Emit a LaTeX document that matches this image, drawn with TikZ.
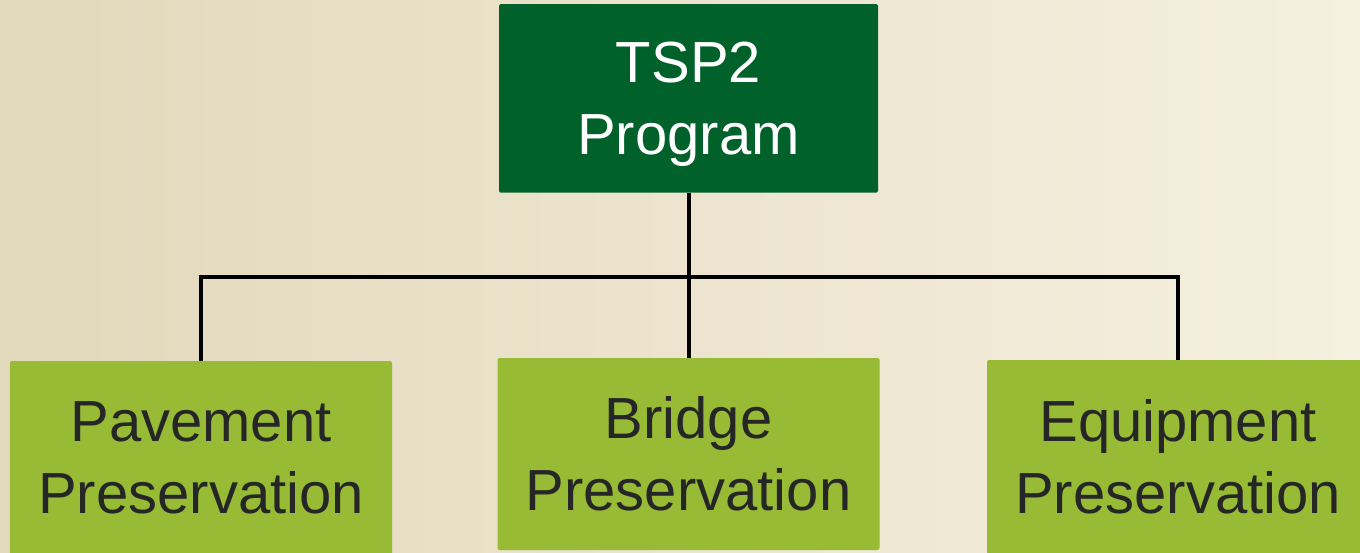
\documentclass[tikz,border=0pt]{standalone}
\usepackage{fontspec}
\setmainfont{Liberation Sans}
\definecolor{bgL}{HTML}{E2D8BB}
\definecolor{bgR}{HTML}{F6F0E0}
\definecolor{darkgrn}{HTML}{00622A}
\definecolor{lightgrn}{HTML}{97BB34}
\definecolor{txtdark}{HTML}{262626}
\tikzset{
  topbox/.style={draw=none, fill=darkgrn, text=white, rounded corners=1.5pt,
    minimum width=379pt, minimum height=188.5pt, inner sep=0pt, align=center,
    text depth=0pt, font=\fontsize{58}{71.5}\selectfont},
  leafbox/.style={draw=none, fill=lightgrn, text=txtdark, rounded corners=2pt,
    minimum width=382pt, minimum height=194pt, inner sep=0pt, align=center,
    font=\fontsize{58}{71.5}\selectfont},
  conn/.style={draw=black, line width=4pt, line join=miter}
}
\begin{document}
\begin{tikzpicture}[x=1pt,y=-1pt]
\useasboundingbox (0,0) rectangle (1360,552);
\clip (0,0) rectangle (1360,552);
\shade[left color=bgL, right color=bgR] (0,0) rectangle (1360,552);
\node[topbox] (top) at (688.5,98.3) {TSP2\\Program};
\node[leafbox] (pav) at (201,458) {Pavement\\Preservation};
\node[leafbox, minimum height=192pt] (bri) at (688.5,454) {Bridge\\Preservation};
\node[leafbox] (equ) at (1178,457) {Equipment\\Preservation};
\coordinate (bus) at (688.5,277);
\draw[conn] (top.south) -- (bus);
\draw[conn] (pav.north) |- (bus) -| (equ.north);
\draw[conn] (bus) -- (bri.north);
\end{tikzpicture}
\end{document}
